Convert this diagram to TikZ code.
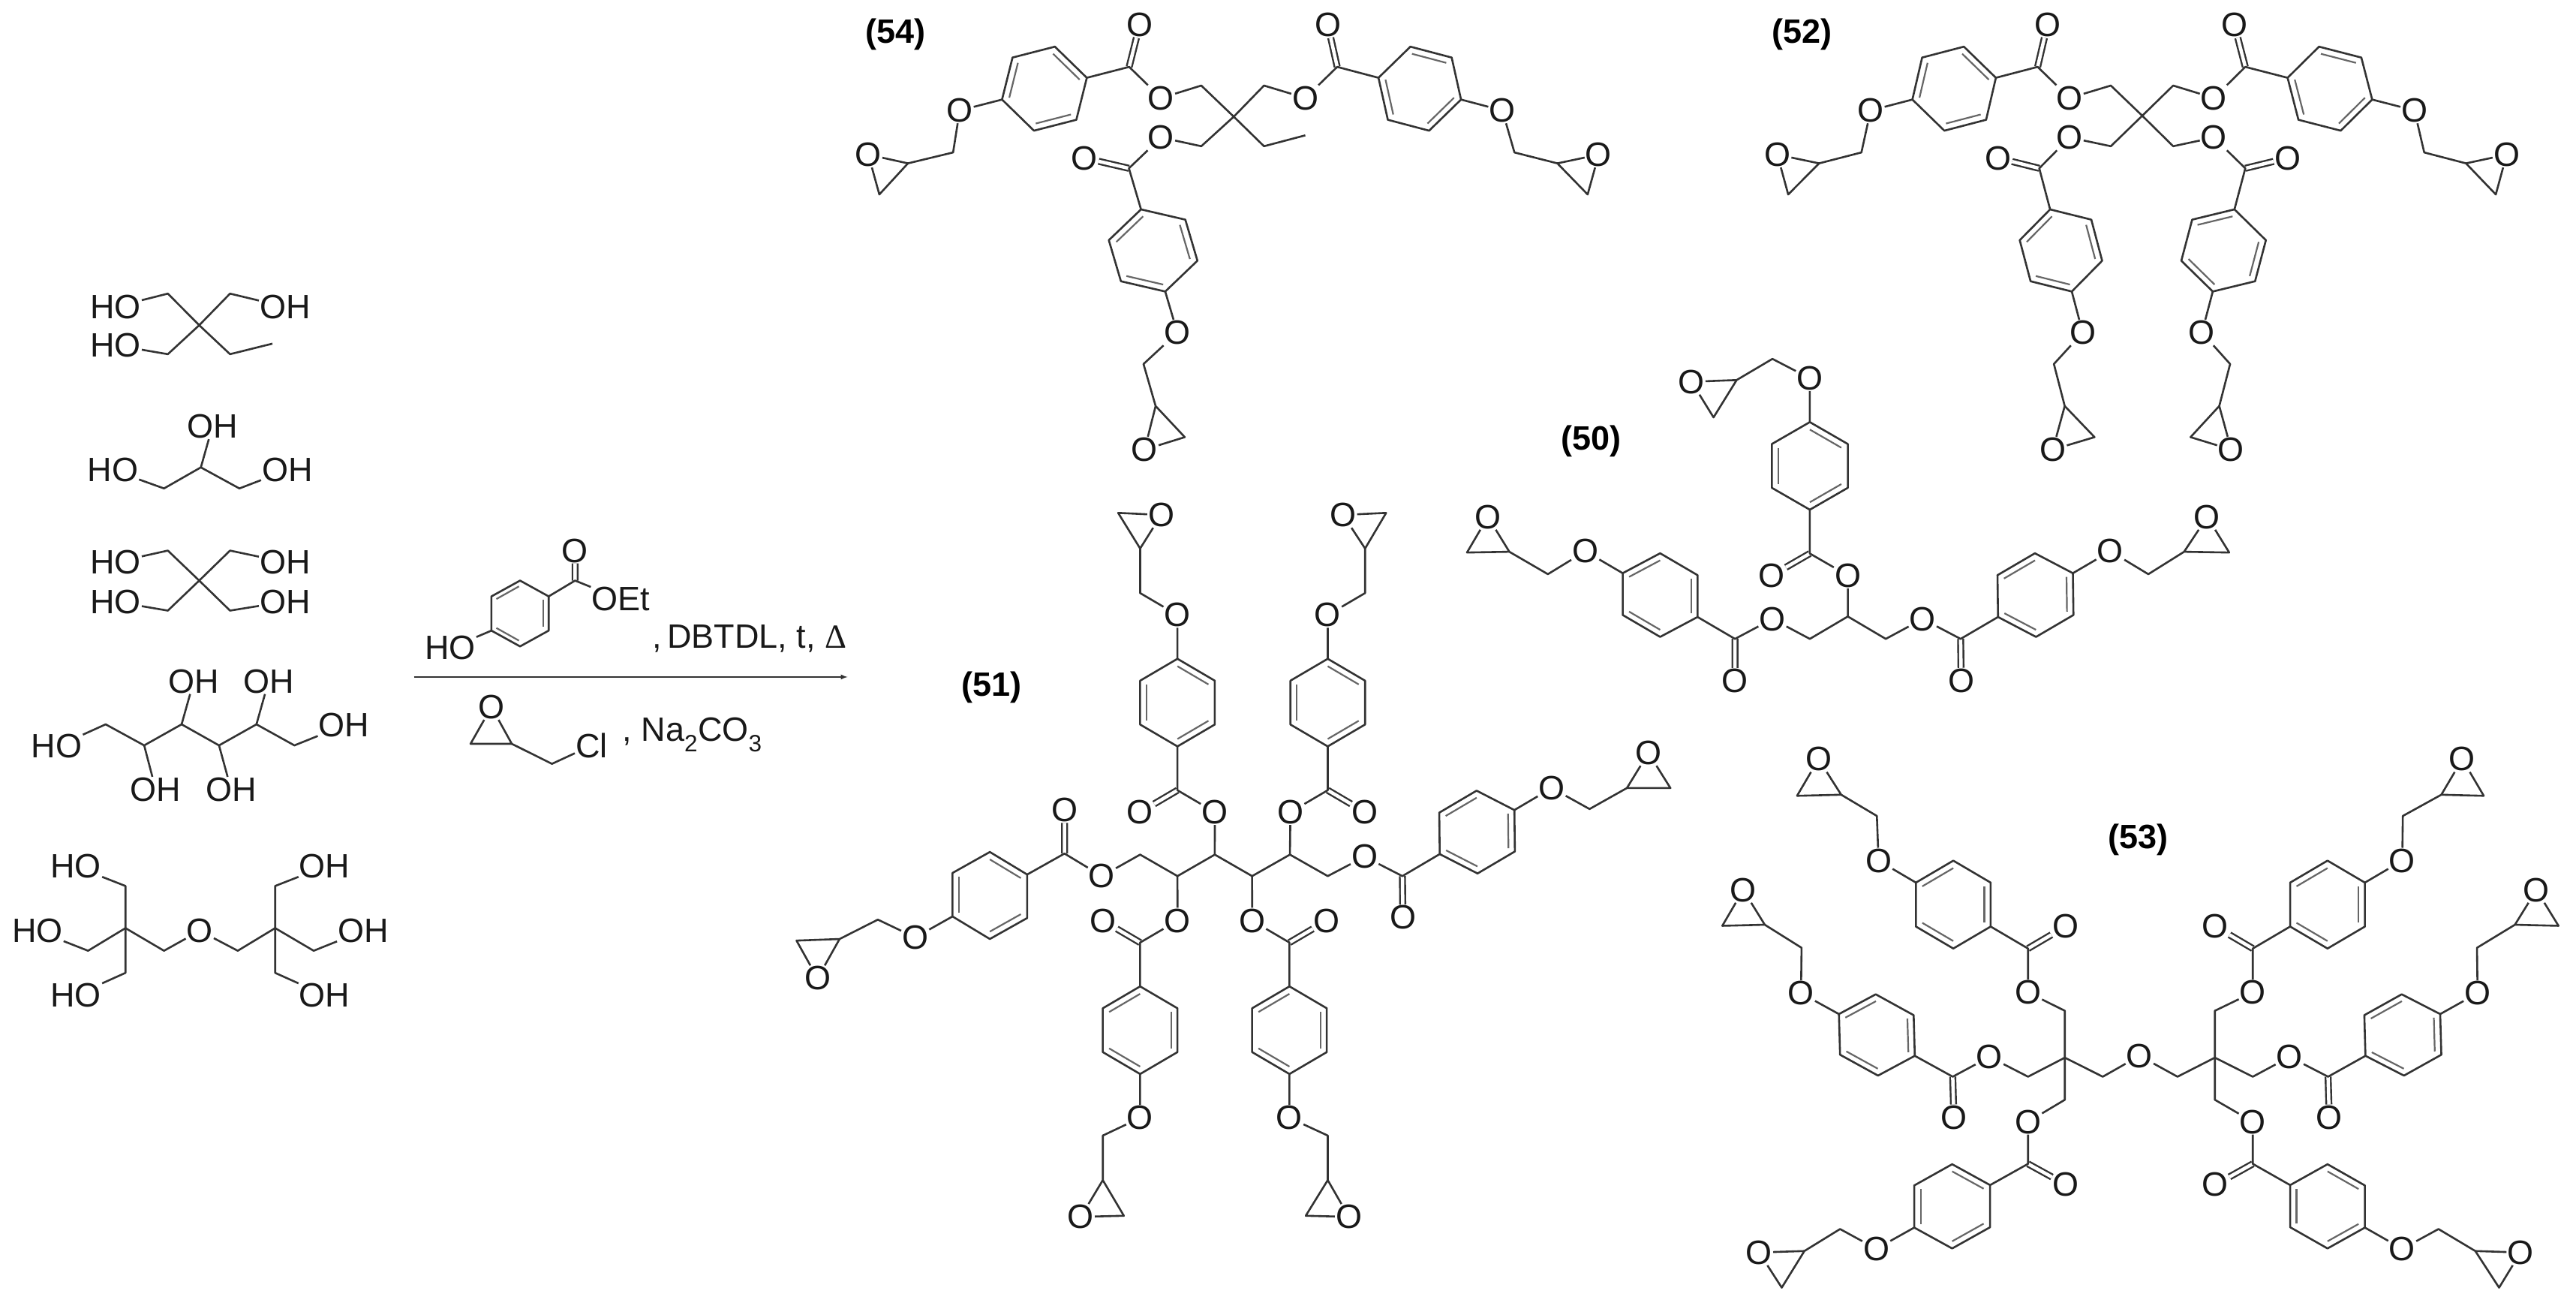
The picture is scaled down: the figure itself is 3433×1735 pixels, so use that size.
\documentclass[tikz,border=0pt]{standalone}
\usepackage{fontspec}
\usepackage{tikz}
\usetikzlibrary{calc}
\setmainfont{Liberation Sans}
\newfontfamily\deltafont{Liberation Serif}
\tikzset{
	bond/.style={line width=2.6pt,black!80,line join=round},
	inner/.style={line width=2.2pt,black!60},
	dbl/.style={line width=2.4pt,black!80,double=white,double distance=4.5pt},
	atom/.style={font=\fontsize{45}{45}\selectfont,text=black!90,inner sep=1pt,anchor=center},
	tag/.style={font=\fontsize{45}{45}\selectfont\bfseries,inner sep=0pt},
}
% ester O at #2, lattice vectors #3 and #4, #5 picks the ring bonds
\newcommand{\arm}[5]{
	\ifnum#5=0 \def\ringpairs{1/2,3/4,5/6}\else \def\ringpairs{2/3,4/5,6/1}\fi
	\begin{scope}[shift={(#2)},x={(#3)},y={(#4)},name prefix=#1-]
		\node[atom] (O) at (0,0) {O};
		\coordinate (C) at (1,1);
		\node[atom] (Ox) at (2,0) {O};
		\coordinate (r1) at (1,3);
		\coordinate (r2) at (0,4);
		\coordinate (r3) at (0,6);
		\coordinate (r4) at (1,7);
		\coordinate (r5) at (2,6);
		\coordinate (r6) at (2,4);
		\coordinate (rc) at (1,5);
		\node[atom] (Oe) at (1,9) {O};
		\draw[dbl] (C) -- (Ox);
		\draw[bond] (O) -- (C) -- (r1) -- (r2) -- (r3) -- (r4) -- (r5) -- (r6) -- (r1);
		\draw[bond] (r4) -- (Oe);
		\foreach \p/\q in \ringpairs {
			\draw[inner] ($(r\p)!.17!(rc)$) -- ($(r\q)!.17!(rc)$);
		}
	\end{scope}
}
% CH2, CH, ring CH2 and ring O after the ether O of arm #1
\newcommand{\tail}[5]{
	\coordinate (#1-t1) at (#2);
	\coordinate (#1-t2) at (#3);
	\coordinate (#1-t3) at (#4);
	\node[atom] (#1-t4) at (#5) {O};
	\draw[bond] (#1-Oe) -- (#1-t1) -- (#1-t2) -- (#1-t3) -- (#1-t4) -- (#1-t2);
}
\begin{document}
\begin{tikzpicture}[x=1pt,y=1pt,yscale=-1]
	\useasboundingbox (0,0) rectangle (3433,1735);
	% polyols and reagents
	\begin{scope}[shift={(0,300)},xscale=.7334,yscale=.7015]
		\node[atom] (ta) at (210,155) {HO};
		\node[atom] (tb) at (518,155) {OH};
		\node[atom] (tc) at (210,228) {HO};
		\draw[bond] (ta) -- (305,130) -- (362,190) -- (418,130) -- (tb);
		\draw[bond] (tc) -- (305,245) -- (362,190) -- (418,245) -- (495,225);
		\node[atom] (ga) at (386,382) {OH};
		\node[atom] (gb) at (205,465) {HO};
		\node[atom] (gc) at (522,465) {OH};
		\draw[bond] (gb) -- (298,500) -- (365,460) -- (435,500) -- (gc);
		\draw[bond] (365,460) -- (ga);
		\node[atom] (pa) at (210,640) {HO};
		\node[atom] (pb) at (518,640) {OH};
		\node[atom] (pc) at (210,715) {HO};
		\node[atom] (pd) at (518,715) {OH};
		\draw[bond] (pa) -- (305,618) -- (362,675) -- (418,732) -- (pd);
		\draw[bond] (pb) -- (418,618) -- (362,675) -- (305,732) -- (pc);
		\node[atom] (sa) at (103,990) {HO};
		\node[atom] (sb) at (625,950) {OH};
		\node[atom] (sc) at (352,866) {OH};
		\node[atom] (sd) at (488,866) {OH};
		\node[atom] (se) at (283,1072) {OH};
		\node[atom] (sf) at (420,1072) {OH};
		\draw[bond] (sa) -- (192,948) -- (262,988) -- (330,948) -- (398,988) -- (466,948) -- (535,988) -- (sb);
		\draw[bond] (330,948) -- (sc);
		\draw[bond] (466,948) -- (sd);
		\draw[bond] (262,988) -- (se);
		\draw[bond] (398,988) -- (sf);
		\node[atom] (da) at (138,1218) {HO};
		\node[atom] (db) at (68,1340) {HO};
		\node[atom] (dc) at (138,1462) {HO};
		\node[atom] (dd) at (363,1340) {O};
		\node[atom] (de) at (590,1218) {OH};
		\node[atom] (df) at (660,1340) {OH};
		\node[atom] (dg) at (590,1462) {OH};
		\draw[bond] (da) -- (228,1255) -- (228,1420) -- (dc);
		\draw[bond] (db) -- (160,1378) -- (228,1335) -- (298,1378) -- (dd);
		\draw[bond] (dd) -- (432,1378) -- (500,1335) -- (570,1378) -- (df);
		\draw[bond] (de) -- (500,1255) -- (500,1420) -- (dg);
		\node[atom] (ha) at (818,803) {HO};
		\node[atom] (hb) at (1045,618) {O};
		\node[atom] (hc) at (1128,710) {OEt};
		\draw[dbl] (1045,675) -- (hb);
		\draw[bond] (ha) -- (893,770) -- (893,705) -- (945,675) -- (997,705) -- (997,770) -- (945,800) -- (893,770);
		\draw[bond] (997,705) -- (1045,675) -- (hc);
		\draw[inner] (902,710) -- (943,686);
		\draw[inner] (987,712) -- (987,763);
		\draw[inner] (943,789) -- (902,765);
		\node[atom] (hd) at (1362,785) {,\,DBTDL, t, {\deltafont Δ}};
		\coordinate (aa) at (752,858);
		\coordinate (ab) at (1540,858);
		\draw[-latex,line width=2pt,black!80] (aa) -- (ab);
		\node[atom] (ea) at (893,915) {O};
		\node[atom] (eb) at (1075,988) {Cl};
		\node[atom] (ec) at (1258,968) {, Na\textsubscript{2}CO\textsubscript{3}};
		\draw[bond] (ea) -- (855,985) -- (930,985) -- (ea);
		\draw[bond] (930,985) -- (1003,1023) -- (eb);
	\end{scope}
	% 54
	\begin{scope}[shift={(1100,0)},xscale=.7334,yscale=.4145]
		\node[tag] (t54) at (128,110) {(54)};
		\arm{fa}{610,315}{-19.5pt,-117.5pt}{-38.5pt,17.5pt}{1}
		\tail{fa}{232,490}{150,525}{98,625}{78,497}
		\arm{fb}{872,315}{20.5pt,-117.5pt}{37.5pt,17.5pt}{0}
		\tail{fb}{1252,490}{1330,525}{1385,625}{1405,497}
		\arm{fc}{610,442}{-69.5pt,33pt}{11pt,66pt}{1}
		\tail{fc}{578,1170}{600,1305}{653,1405}{580,1445}
		\coordinate (fm) at (742,375);
		\draw[bond] (fa-O) -- (683,275) -- (fm) -- (797,275) -- (fb-O);
		\draw[bond] (fc-O) -- (683,470) -- (fm) -- (797,470) -- (872,435);
	\end{scope}
	% 52
	\begin{scope}[shift={(2300,0)},xscale=.7226,yscale=.4145]
		\node[tag] (t52) at (140,110) {(52)};
		\arm{ga}{634,315}{-20.5pt,-117.5pt}{-38.5pt,17.5pt}{1}
		\tail{ga}{250,490}{172,525}{115,625}{95,497}
		\arm{gb}{900,315}{19pt,-117.5pt}{39pt,17.5pt}{0}
		\tail{gb}{1288,490}{1365,525}{1420,625}{1440,497}
		\arm{gc}{634,442}{-66pt,33pt}{10pt,66pt}{1}
		\tail{gc}{605,1170}{625,1305}{680,1405}{603,1445}
		\arm{gd}{900,442}{68pt,33pt}{-10pt,66pt}{0}
		\tail{gd}{930,1170}{910,1305}{857,1405}{932,1445}
		\coordinate (gm) at (768,372);
		\draw[bond] (ga-O) -- (710,275) -- (gm) -- (825,275) -- (gb-O);
		\draw[bond] (gc-O) -- (710,470) -- (gm) -- (825,470) -- (gd-O);
	\end{scope}
	% 50
	\begin{scope}[shift={(1900,440)},xscale=.7334,yscale=.3316]
		\node[tag] (t50) at (300,447) {(50)};
		\arm{ka}{767,985}{-69pt,0pt}{0pt,-88pt}{0}
		\tail{ka}{630,115}{565,200}{523,350}{483,207}
		\arm{kb}{630,1160}{-34pt,124pt}{-34pt,-44pt}{0}
		\tail{kb}{222,980}{152,890}{75,893}{113,750}
		\arm{kc}{903,1160}{35pt,124pt}{34pt,-44pt}{1}
		\tail{kc}{1313,980}{1378,890}{1460,893}{1420,750}
		\coordinate (km) at (767,1150);
		\draw[bond] (kb-O) -- (698,1240) -- (km) -- (836,1240) -- (kc-O);
		\draw[bond] (km) -- (ka-O);
	\end{scope}
	% 51
	\begin{scope}[shift={(1050,640)},xscale=.6378,yscale=.6983]
		\node[tag] (t51) at (425,395) {(51)};
		\arm{ma}{892,633}{-78pt,0pt}{0pt,-41.8pt}{0}
		\tail{ma}{736,215}{736,130}{690,62}{780,66}
		\arm{mb}{1050,633}{78pt,0pt}{0pt,-41.8pt}{1}
		\tail{mb}{1206,215}{1206,130}{1250,62}{1160,66}
		\arm{mc}{814,840}{-78pt,0pt}{0pt,41.8pt}{1}
		\tail{mc}{658,1250}{658,1335}{702,1403}{612,1405}
		\arm{md}{970,840}{78pt,0pt}{0pt,41.8pt}{0}
		\tail{md}{1128,1250}{1128,1335}{1082,1403}{1172,1405}
		\arm{me}{656,755}{-39pt,-63pt}{-39pt,20pt}{1}
		\tail{me}{188,838}{108,875}{18,878}{62,950}
		\arm{mf}{1205,718}{40pt,58pt}{39pt,-21pt}{1}
		\tail{mf}{1675,627}{1753,587}{1844,587}{1798,520}
		\draw[bond] (me-O) -- (736,714) -- (814,755) -- (892,714) -- (970,755) -- (1049,714) -- (1128,755) -- (mf-O);
		\draw[bond] (814,755) -- (mc-O);
		\draw[bond] (892,714) -- (ma-O);
		\draw[bond] (970,755) -- (md-O);
		\draw[bond] (1049,714) -- (mb-O);
	\end{scope}
	% 53
	\begin{scope}[shift={(2250,970)},xscale=.7545,yscale=.4879]
		\node[tag] (t53) at (795,305) {(53)};
		\arm{na}{600,722}{33pt,-90pt}{-33pt,-30pt}{1}
		\tail{na}{333,240}{270,182}{192,185}{230,85}
		\arm{nb}{532,898}{-31.5pt,82.5pt}{-33.5pt,-28.5pt}{0}
		\tail{nb}{200,600}{135,537}{60,540}{97,442}
		\arm{nc}{600,1075}{33.5pt,86pt}{-33.5pt,29pt}{0}
		\tail{nc}{268,1368}{205,1428}{165,1528}{125,1432}
		\arm{nd}{997,722}{-33pt,-90pt}{33pt,-30pt}{0}
		\tail{nd}{1262,240}{1330,182}{1405,185}{1367,85}
		\arm{ne}{1062,898}{35pt,82.5pt}{33pt,-28.5pt}{1}
		\tail{ne}{1393,600}{1460,537}{1537,540}{1498,442}
		\arm{nf}{997,1075}{-33pt,86pt}{33pt,29pt}{1}
		\tail{nf}{1325,1368}{1390,1428}{1432,1528}{1470,1432}
		\node[atom] (nm) at (797,895) {O};
		\draw[bond] (na-O) -- (665,772) -- (665,1015) -- (nc-O);
		\draw[bond] (nb-O) -- (600,952) -- (665,900) -- (732,952) -- (nm);
		\draw[bond] (nm) -- (864,952) -- (930,900) -- (997,952) -- (ne-O);
		\draw[bond] (nd-O) -- (930,772) -- (930,1015) -- (nf-O);
	\end{scope}
\end{tikzpicture}
\end{document}
